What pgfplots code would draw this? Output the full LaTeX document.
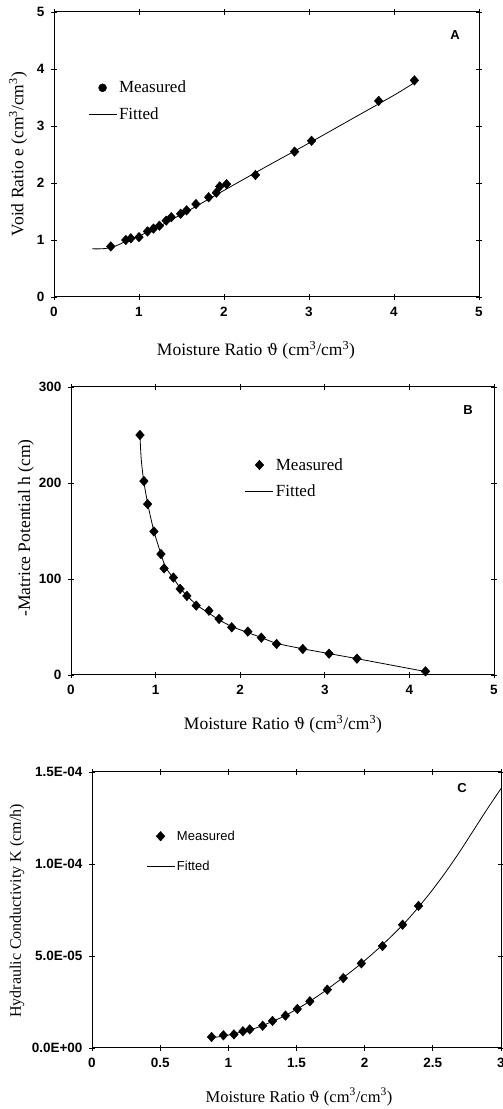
\documentclass[border=0pt]{standalone}
\usepackage{fontspec}
\setmainfont{Liberation Serif}
\setsansfont{Liberation Sans}
\newfontfamily\dvs{DejaVu Serif}[Scale=0.9]
\usepackage{pgfplots}
\pgfplotsset{compat=1.18}
\newcommand{\unitcc}{(cm\textsuperscript{3}/cm\textsuperscript{3})}
\newcommand{\mr}{Moisture Ratio {\dvs ϑ} \unitcc}
\pgfplotsset{
  panel/.style={
    scale only axis,
    axis line style={line width=1pt},
    tick style={line width=0.9pt, black},
    tick align=center,
    major tick length=6pt,
    /pgf/number format/assume math mode=true,
    tick label style={font=\fontsize{13.5}{14}\selectfont\sffamily\bfseries},
    xticklabel style={yshift=-4pt},
    yticklabel style={xshift=-3pt},
    legend cell align=left,
    legend style={draw=none, fill=none, inner sep=0pt, row sep=9pt},
    legend image code/.code={\draw[mark repeat=2,mark phase=2,##1] plot coordinates {(0pt,0pt) (14pt,0pt) (28pt,0pt)};},
    clip=false,
  },
  meas/.style={only marks, mark=diamond*, mark size=4.8pt, mark options={xscale=1.2}, black},
  fit/.style={black, line width=0.8pt, mark=none},
}
\begin{document}
\begin{tikzpicture}[x=1pt,y=1pt]
\useasboundingbox (0,0) rectangle (503,1109);
% ---------------- Panel A
\begin{axis}[panel, at={(54pt,812pt)}, anchor=south west, width=425pt, height=285pt,
  xmin=0, xmax=5, ymin=0, ymax=5, xtick={0,1,2,3,4,5}, ytick={0,1,2,3,4,5},
  legend style={at={(0.08,0.765)}, anchor=north west, font=\fontsize{17}{17}\selectfont}]
\addlegendimage{only marks, mark=*, mark size=4pt, black}
\addlegendentry{Measured}
\addlegendimage{fit}
\addlegendentry{Fitted}
\addplot[fit, smooth, forget plot] coordinates {
(0.45,0.845) (0.55,0.845) (0.65,0.86) (0.75,0.91) (0.85,0.98) (1.0,1.07)
(1.2,1.21) (1.4,1.37) (1.6,1.53) (1.8,1.70) (2.0,1.87) (2.5,2.29)
(3.0,2.70) (3.5,3.12) (4.0,3.54) (4.24,3.76)};
\addplot[meas, forget plot] coordinates {
(0.668,0.887) (0.845,1.00) (0.904,1.03) (1.00,1.05) (1.10,1.15) (1.17,1.20)
(1.24,1.25) (1.32,1.34) (1.38,1.40) (1.49,1.46) (1.56,1.52) (1.67,1.63)
(1.82,1.75) (1.91,1.83) (1.95,1.94) (2.03,1.98) (2.37,2.14) (2.83,2.55)
(3.03,2.74) (3.82,3.44) (4.24,3.80)};
\end{axis}
% ---------------- Panel B
\begin{axis}[panel, at={(71pt,434pt)}, anchor=south west, width=423pt, height=288pt,
  xmin=0, xmax=5, ymin=0, ymax=300, xtick={0,1,2,3,4,5}, ytick={0,100,200,300},
  legend style={at={(0.411,0.76)}, anchor=north west, font=\fontsize{17}{17}\selectfont}]
\addlegendimage{meas}
\addlegendentry{Measured}
\addlegendimage{fit}
\addlegendentry{Fitted}
\addplot[fit, smooth, forget plot] coordinates {
(0.815,250) (0.83,225) (0.86,202) (0.91,177) (0.98,150) (1.06,127) (1.12,112)
(1.21,101) (1.30,89.5) (1.40,80) (1.50,72) (1.62,65) (1.75,57.5) (1.90,50.5)
(2.08,44.5) (2.25,39) (2.43,33) (2.74,27.3) (3.05,22.3) (3.38,17.0) (4.19,3.6)};
\addplot[meas, forget plot] coordinates {
(0.815,250) (0.862,202) (0.906,178) (0.98,149.5) (1.063,126) (1.10,111)
(1.21,101.5) (1.29,89.7) (1.37,82.4) (1.48,72.3) (1.63,67) (1.75,58.4)
(1.90,49.7) (2.09,45.2) (2.25,38.9) (2.43,32.3) (2.74,27.1) (3.05,22.2)
(3.38,17.0) (4.19,3.8)};
\end{axis}
% ---------------- Panel C
\begin{axis}[panel, at={(92pt,61pt)}, anchor=south west, width=409pt, height=276pt,
  xmin=0, xmax=3, ymin=0, ymax=1.5e-4, scaled y ticks=false, scaled x ticks=false,
  xtick={0,0.5,1,1.5,2,2.5,3}, xticklabels={0,0.5,1,1.5,2,2.5,3},
  ytick={0,5e-5,1e-4,1.5e-4}, yticklabels={0.0E+00,5.0E-05,1.0E-04,1.5E-04},
  legend style={at={(0.132,0.795)}, anchor=north west, row sep=15pt, font=\fontsize{13}{13}\selectfont\sffamily}]
\addlegendimage{meas}
\addlegendentry{Measured}
\addlegendimage{fit}
\addlegendentry{Fitted}
\addplot[fit, smooth, forget plot] coordinates {
(0.877,0.55e-5) (1.0,0.70e-5) (1.1,0.88e-5) (1.2,1.08e-5) (1.3,1.37e-5)
(1.4,1.70e-5) (1.5,2.10e-5) (1.6,2.55e-5) (1.7,3.05e-5) (1.8,3.60e-5)
(1.9,4.15e-5) (2.0,4.75e-5) (2.1,5.40e-5) (2.2,6.10e-5) (2.3,6.85e-5)
(2.4,7.70e-5) (2.5,8.62e-5) (2.6,9.62e-5) (2.7,10.7e-5) (2.8,11.85e-5)
(2.9,13.0e-5) (3.0,14.1e-5)};
\addplot[meas, forget plot] coordinates {
(0.877,0.60e-5) (0.964,0.69e-5) (1.041,0.74e-5) (1.107,0.91e-5) (1.157,1.01e-5)
(1.252,1.21e-5) (1.324,1.47e-5) (1.419,1.76e-5) (1.506,2.12e-5) (1.598,2.54e-5)
(1.726,3.17e-5) (1.843,3.80e-5) (1.976,4.60e-5) (2.131,5.54e-5) (2.278,6.70e-5)
(2.395,7.72e-5)};
\end{axis}
% ---------------- labels
\node[font=\fontsize{17.5}{18}\selectfont] at (256,759) {\mr};
\node[font=\fontsize{17.5}{18}\selectfont, rotate=90] at (18,955) {Void Ratio e \unitcc};
\node[font=\fontsize{17.5}{18}\selectfont] at (283,385) {\mr};
\node[font=\fontsize{17.5}{18}\selectfont, rotate=90] at (26,581) {-Matrice Potential h (cm)};
\node[font=\fontsize{16.5}{17}\selectfont] at (299,12) {\mr};
\node[font=\fontsize{16}{17}\selectfont, rotate=90] at (17,198) {Hydraulic Conductivity K (cm/h)};
\node[font=\fontsize{13}{13}\selectfont\sffamily\bfseries] at (455,1074) {A};
\node[font=\fontsize{13}{13}\selectfont\sffamily\bfseries] at (468,699) {B};
\node[font=\fontsize{13}{13}\selectfont\sffamily\bfseries] at (462,321) {C};
\end{tikzpicture}
\end{document}
